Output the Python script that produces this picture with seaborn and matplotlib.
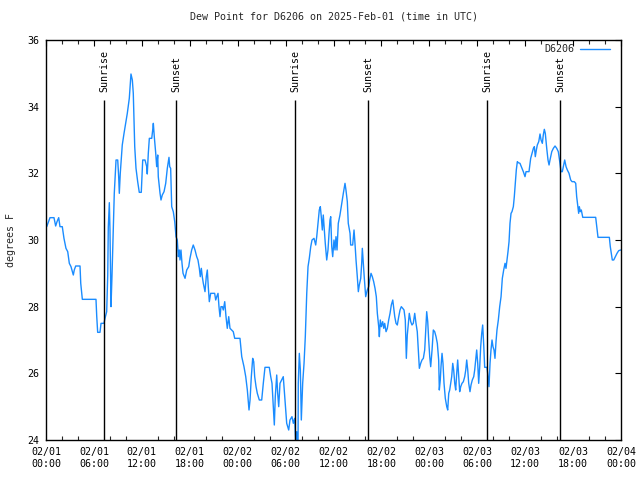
import matplotlib

matplotlib.use("Agg")

import matplotlib.dates as mdates
import matplotlib.pyplot as plt
import pandas as pd
import seaborn as sns

# hours since 2025-02-01 00:00 UTC, dew point in deg F
hours = [
    0.09, 0.50, 1.00, 1.21, 1.38, 1.59, 1.75, 2.04, 2.25, 2.50,
    2.72, 2.92, 3.13, 3.42, 3.54, 3.72, 4.26, 4.35, 4.55, 6.26,
    6.35, 6.47, 6.76, 6.89, 7.26, 7.39, 7.60, 7.73, 7.80, 7.93,
    8.01, 8.14, 8.26, 8.39, 8.55, 8.77, 8.98, 9.10, 9.18, 9.30,
    9.55, 9.77, 9.98, 10.18, 10.43, 10.64, 10.81, 10.93, 11.11, 11.27,
    11.48, 11.68, 11.93, 12.11, 12.40, 12.61, 12.68, 12.81, 12.94, 13.24,
    13.36, 13.44, 13.56, 13.74, 13.86, 13.99, 14.06, 14.28, 14.40, 14.56,
    14.78, 14.99, 15.19, 15.40, 15.49, 15.61, 15.69, 15.74, 15.94, 16.12,
    16.28, 16.44, 16.57, 16.69, 16.78, 16.90, 17.03, 17.16, 17.41, 17.62,
    17.87, 18.03, 18.24, 18.44, 18.66, 18.87, 19.03, 19.20, 19.32, 19.45,
    19.57, 19.70, 19.91, 20.07, 20.20, 20.32, 20.45, 20.62, 21.12, 21.25,
    21.38, 21.54, 21.66, 21.79, 21.91, 22.08, 22.20, 22.38, 22.54, 22.70,
    22.88, 23.04, 23.25, 23.45, 23.63, 24.29, 24.51, 24.79, 25.01, 25.21,
    25.42, 25.55, 25.71, 25.88, 26.01, 26.13, 26.30, 26.46, 26.71, 27.01,
    27.21, 27.42, 27.96, 28.14, 28.30, 28.46, 28.59, 28.71, 28.89, 29.01,
    29.14, 29.30, 29.51, 29.71, 29.93, 30.14, 30.39, 30.55, 30.80, 30.97,
    31.14, 31.27, 31.39, 31.56, 31.59, 31.72, 31.85, 31.97, 32.14, 32.31,
    32.47, 32.65, 32.81, 32.97, 33.15, 33.31, 33.56, 33.77, 33.90, 34.06,
    34.22, 34.35, 34.47, 34.60, 34.72, 34.85, 34.97, 35.15, 35.31, 35.44,
    35.56, 35.65, 35.78, 35.90, 36.06, 36.19, 36.31, 36.44, 36.60, 36.81,
    37.03, 37.23, 37.44, 37.56, 37.73, 37.85, 38.07, 38.15, 38.40, 38.57,
    38.69, 38.82, 38.98, 39.11, 39.23, 39.41, 39.53, 39.61, 39.73, 39.86,
    40.03, 40.23, 40.41, 40.53, 40.70, 40.86, 41.03, 41.20, 41.36, 41.49,
    41.66, 41.74, 41.86, 41.99, 42.16, 42.29, 42.41, 42.58, 42.74, 42.91,
    43.08, 43.24, 43.42, 43.54, 43.67, 43.83, 43.99, 44.17, 44.33, 44.49,
    44.67, 44.83, 44.99, 45.12, 45.24, 45.37, 45.49, 45.67, 45.83, 45.99,
    46.17, 46.33, 46.49, 46.62, 46.75, 46.92, 47.08, 47.25, 47.42, 47.55,
    47.67, 47.80, 47.92, 48.05, 48.17, 48.34, 48.50, 48.67, 48.84, 49.00,
    49.17, 49.25, 49.37, 49.46, 49.59, 49.71, 49.84, 50.00, 50.18, 50.30,
    50.43, 50.55, 50.68, 50.80, 50.93, 51.05, 51.18, 51.30, 51.43, 51.55,
    51.68, 51.80, 51.93, 52.09, 52.26, 52.43, 52.56, 52.68, 52.81, 52.93,
    53.09, 53.22, 53.38, 53.56, 53.68, 53.81, 53.93, 54.06, 54.18, 54.31,
    54.43, 54.56, 54.68, 54.81, 54.93, 55.22, 55.35, 55.47, 55.60, 55.72,
    55.85, 55.97, 56.10, 56.22, 56.35, 56.47, 56.64, 56.81, 56.98, 57.14,
    57.31, 57.48, 57.60, 57.73, 57.85, 57.98, 58.10, 58.23, 58.35, 58.52,
    58.64, 58.77, 58.89, 59.02, 59.14, 59.35, 59.52, 59.77, 59.98, 60.11,
    60.48, 60.69, 60.86, 61.03, 61.15, 61.27, 61.40, 61.52, 61.70, 61.86,
    61.99, 62.15, 62.27, 62.40, 62.52, 62.70, 62.86, 62.99, 63.11, 63.33,
    63.53, 63.74, 63.95, 64.15, 64.36, 64.49, 64.65, 64.78, 64.95, 65.12,
    65.28, 65.49, 65.70, 65.87, 66.15, 66.33, 66.45, 66.58, 66.70, 66.78,
    66.91, 67.03, 67.21, 68.83, 68.96, 69.12, 70.54, 70.66, 70.79, 70.91,
    71.09, 71.29, 71.50, 71.71, 71.96,
]
dew_f = [
    30.4, 30.67, 30.67, 30.42, 30.55, 30.67, 30.4, 30.4, 30.05, 29.75,
    29.65, 29.3, 29.2, 28.95, 29.1, 29.22, 29.22, 28.7, 28.22, 28.22,
    27.72, 27.23, 27.23, 27.5, 27.5, 27.65, 27.85, 28.95, 30.38, 31.12,
    30.3, 28.0, 28.9, 30.05, 31.4, 32.4, 32.4, 31.9, 31.4, 32.0,
    32.85, 33.2, 33.5, 33.8, 34.25, 34.98, 34.8, 34.4, 32.8, 32.15,
    31.75, 31.43, 31.43, 32.4, 32.4, 32.2, 31.98, 32.6, 33.05, 33.05,
    33.3, 33.5, 33.1, 32.6, 32.2, 32.55, 31.9, 31.4, 31.2, 31.35,
    31.45, 31.7, 32.15, 32.48, 32.2, 32.15, 31.4, 31.0, 30.85, 30.55,
    30.1, 30.0, 29.5, 29.7, 29.4, 29.7, 29.3, 29.0, 28.85, 29.1,
    29.2, 29.45, 29.7, 29.85, 29.7, 29.5, 29.4, 29.15, 28.9, 29.15,
    28.9, 28.7, 28.45, 28.9, 29.1, 28.6, 28.15, 28.4, 28.4, 28.2,
    28.3, 28.4, 28.0, 27.7, 28.0, 28.0, 27.9, 28.15, 27.7, 27.35,
    27.7, 27.35, 27.3, 27.25, 27.05, 27.05, 26.5, 26.2, 25.9, 25.5,
    24.9, 25.2, 25.9, 26.45, 26.35, 25.9, 25.6, 25.4, 25.2, 25.2,
    25.7, 26.18, 26.18, 25.9, 25.7, 25.0, 24.45, 25.3, 25.95, 25.4,
    25.0, 25.7, 25.8, 25.9, 25.2, 24.5, 24.3, 24.6, 24.7, 24.5,
    24.65, 23.9, 24.25, 23.9, 25.7, 26.6, 26.1, 24.6, 25.7, 26.3,
    27.1, 28.4, 29.2, 29.45, 29.8, 30.0, 30.05, 29.85, 30.1, 30.5,
    30.9, 31.0, 30.7, 30.3, 30.75, 30.3, 29.9, 29.4, 29.7, 30.2,
    30.6, 30.7, 29.8, 29.5, 30.0, 29.7, 30.1, 29.7, 30.5, 30.75,
    31.1, 31.4, 31.7, 31.5, 31.15, 30.5, 30.2, 29.85, 29.85, 30.3,
    29.9, 29.4, 28.9, 28.45, 28.65, 28.85, 29.3, 29.75, 29.3, 28.85,
    28.3, 28.5, 28.6, 28.8, 29.0, 28.9, 28.75, 28.55, 28.3, 27.8,
    27.4, 27.1, 27.6, 27.4, 27.55, 27.35, 27.5, 27.25, 27.35, 27.6,
    27.8, 28.05, 28.2, 27.95, 27.7, 27.5, 27.45, 27.7, 27.9, 28.0,
    27.95, 27.9, 27.6, 26.45, 27.15, 27.5, 27.8, 27.55, 27.45, 27.5,
    27.8, 27.5, 27.25, 26.7, 26.15, 26.3, 26.4, 26.45, 26.7, 27.3,
    27.85, 27.55, 27.0, 26.5, 26.2, 26.7, 27.3, 27.25, 27.1, 26.9,
    26.4, 25.5, 25.8, 26.2, 26.6, 26.3, 25.7, 25.25, 25.0, 24.9,
    25.4, 25.5, 25.7, 25.9, 26.3, 26.1, 25.7, 25.5, 26.0, 26.4,
    25.9, 25.45, 25.6, 25.7, 25.75, 25.9, 26.1, 26.4, 26.1, 25.7,
    25.45, 25.65, 25.8, 25.9, 26.1, 26.4, 26.7, 26.3, 25.7, 26.2,
    26.8, 27.2, 27.45, 26.85, 26.18, 26.18, 25.9, 25.6, 26.3, 26.7,
    27.0, 26.8, 26.7, 26.45, 26.95, 27.3, 27.6, 28.0, 28.3, 28.85,
    29.1, 29.3, 29.15, 29.4, 29.65, 29.95, 30.5, 30.8, 30.85, 31.0,
    31.3, 31.7, 32.1, 32.35, 32.32, 32.3, 32.2, 32.05, 31.9, 32.05,
    32.05, 32.45, 32.6, 32.75, 32.8, 32.5, 32.7, 32.85, 32.95, 33.18,
    33.0, 32.9, 33.15, 33.32, 33.2, 32.75, 32.4, 32.25, 32.4, 32.65,
    32.75, 32.82, 32.75, 32.65, 32.3, 32.05, 32.05, 32.2, 32.4, 32.2,
    32.1, 32.0, 31.8, 31.75, 31.75, 31.7, 31.3, 31.05, 30.8, 31.0,
    30.85, 30.9, 30.68, 30.68, 30.4, 30.08, 30.08, 29.8, 29.6, 29.4,
    29.4, 29.5, 29.6, 29.68, 29.7,
]

event_times = ["2025-02-01 07:15", "2025-02-01 16:17", "2025-02-02 07:12",
               "2025-02-02 16:19", "2025-02-03 07:13", "2025-02-03 16:22"]
event_labels = ["Sunrise", "Sunset", "Sunrise", "Sunset", "Sunrise", "Sunset"]

start = pd.Timestamp("2025-02-01 00:00")
df = pd.DataFrame({
    "time": start + pd.to_timedelta(hours, unit="h"),
    "dew": dew_f,
})

FS = 7.2

sns.set_theme(style="white")
plt.rcParams["font.family"] = ["DejaVu Sans Mono"]
plt.rcParams["font.size"] = FS

fig = plt.figure(figsize=(6.4, 4.8), dpi=100)
ax = fig.add_axes([46 / 640, 40 / 480, 575 / 640, 400 / 480])

sns.lineplot(data=df, x="time", y="dew", ax=ax, color="#1a8cff",
             linewidth=1.0, label="D6206")

for t, lab in zip(event_times, event_labels):
    ts = pd.Timestamp(t)
    ax.vlines(ts, 24, 34.2, color="black", linewidth=1.0)
    ax.text(ts, 34.45, lab, rotation=90, ha="center", va="bottom",
            fontsize=FS, color="black")

ax.set_xlim(start, start + pd.Timedelta(hours=72))
ax.set_ylim(24, 36)
ax.set_yticks(range(24, 37, 2))
ax.xaxis.set_major_locator(mdates.HourLocator(byhour=[0, 6, 12, 18]))
ax.xaxis.set_minor_locator(mdates.HourLocator(byhour=range(0, 24, 2)))
ax.xaxis.set_major_formatter(mdates.DateFormatter("%m/%d\n%H:%M"))

ax.tick_params(axis="both", which="major", direction="in", length=4.5,
               width=0.8, top=True, right=True, labelsize=FS, colors="black")
ax.tick_params(axis="x", which="minor", direction="in", length=3,
               width=0.8, top=True, bottom=True)
ax.tick_params(axis="x", which="major", pad=5)
ax.tick_params(axis="y", which="major", pad=5)

for s in ax.spines.values():
    s.set_color("black")
    s.set_linewidth(1.0)

ax.set_xlabel("")
ax.set_ylabel("degrees F", fontsize=FS, labelpad=8)
ax.set_title("Dew Point for D6206 on 2025-Feb-01 (time in UTC)",
             fontsize=FS, pad=15)

ax.legend(loc="upper right", bbox_to_anchor=(0.981, 0.989), frameon=False,
          markerfirst=False, handlelength=3.0, handletextpad=0.6,
          fontsize=FS, borderaxespad=0, borderpad=0)

fig.savefig("out.png", dpi=100)
